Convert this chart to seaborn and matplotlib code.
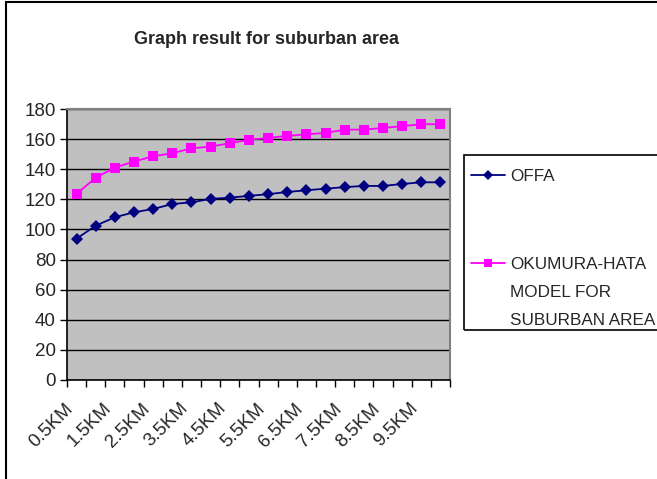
import numpy as np
import pandas as pd
import seaborn as sns
import matplotlib.pyplot as plt
import matplotlib.transforms as mtransforms
from matplotlib.patches import Rectangle

# distances 0.5KM .. 10KM
km_labels = [f"{d:g}KM" for d in np.arange(0.5, 10.01, 0.5)]
offa = [93.9, 102.5, 108.1, 111.4, 113.6, 116.9, 118.0, 120.3, 121.1, 122.3,
        123.4, 124.9, 126.0, 127.1, 128.1, 128.9, 128.9, 130.2, 131.3, 131.3]
okumura = [123.6, 134.4, 141.1, 145.1, 148.6, 150.6, 153.9, 155.0, 157.3, 159.5,
           160.8, 162.1, 163.2, 164.1, 166.3, 166.3, 167.4, 168.6, 169.9, 169.9]
series_names = ["OFFA", "OKUMURA-HATA"]
legend_extra = ["MODEL FOR", "SUBURBAN AREA"]

sns.set_style("white")
plt.rcParams['font.family'] = ['Liberation Sans', 'DejaVu Sans']

df = pd.DataFrame({
    "dist": km_labels * 2,
    "loss": offa + okumura,
    "series": [series_names[0]] * len(offa) + [series_names[1]] * len(okumura),
})

fig = plt.figure(figsize=(6.57, 4.79), dpi=100)
ax = fig.add_axes([67 / 657, 1 - 380 / 479, 383 / 657, 271 / 479])

sns.lineplot(data=df, x="dist", y="loss", hue="series", style="series",
             palette=["#000080", "#FF00FF"], markers=["D", "s"], dashes=False,
             markersize=6.5, markeredgewidth=0, linewidth=1.3, ax=ax, sort=False)

ax.set_facecolor("#C0C0C0")
ax.set_xlim(-0.5, len(km_labels) - 0.5)
ax.set_ylim(0, 180)
ax.set_yticks(range(0, 181, 20))
ax.yaxis.grid(True, color="black", linewidth=1)
ax.set_axisbelow(True)
ax.set_xlabel("")
ax.set_ylabel("")

# ticks between categories, rotated labels on every other category
ax.set_xticks(np.arange(-0.5, len(km_labels), 1))
ax.set_xticklabels([])
ax.tick_params(axis="x", length=5, width=1, color="black",
               direction="out", bottom=True)
ax.tick_params(axis="y", length=5, width=1, color="black", direction="out",
               left=True, labelsize=13.5, pad=3)

offset = mtransforms.ScaledTranslation(-12 / 100, -20 / 100, fig.dpi_scale_trans)
xlab_trans = mtransforms.blended_transform_factory(ax.transData, ax.transAxes) + offset
for i in range(0, len(km_labels), 2):
    ax.text(i, 0, km_labels[i], transform=xlab_trans, rotation=45,
            rotation_mode="anchor", ha="right", va="top", fontsize=13.5,
            clip_on=False)

for side in ["top", "right"]:
    ax.spines[side].set_color("#808080")
    ax.spines[side].set_linewidth(1.5)
for side in ["left", "bottom"]:
    ax.spines[side].set_color("black")
    ax.spines[side].set_linewidth(1.2)

ax.get_legend().remove()
handles, labels = ax.get_legend_handles_labels()
for h in handles:
    h.set_markersize(5.5)
leg = fig.legend(handles, labels, loc="upper left",
                 bbox_to_anchor=(462.5 / 657, 1 - 160 / 479),
                 fontsize=12.3, frameon=False,
                 handlelength=2.0, handletextpad=0.3, borderpad=0.5,
                 labelspacing=4.3, borderaxespad=0)

# legend frame
fig.patches.append(Rectangle((464 / 657, 1 - 330 / 479), 0.5, 175 / 479,
                             transform=fig.transFigure, fill=False,
                             edgecolor="black", linewidth=1.2))

# continuation lines of the second legend label
fig.canvas.draw()
bb = leg.get_texts()[1].get_window_extent()
for i, line in enumerate(legend_extra, start=1):
    fig.text(bb.x0 / 657, (bb.y0 + bb.y1) / 2 / 479 - i * 28 / 479, line,
             ha="left", va="center", fontsize=12.3)

fig.text(267 / 657, 1 - 40 / 479, "Graph result for suburban area",
         ha="center", va="center", fontsize=13, fontweight="bold")

# outer chart frame
fig.patches.append(Rectangle((6 / 657, -0.05), 1.0, 1 - 2 / 479 + 0.05,
                             transform=fig.transFigure, fill=False,
                             edgecolor="black", linewidth=1.5))

fig.savefig("out.png", dpi=100)
